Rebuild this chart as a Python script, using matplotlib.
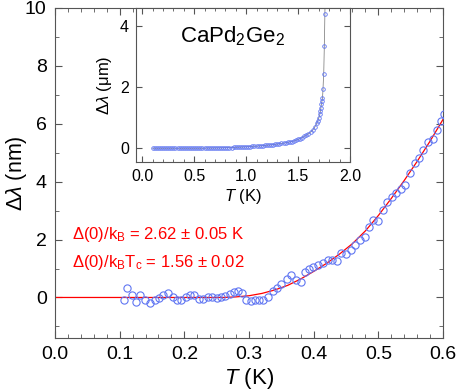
import matplotlib
matplotlib.use("Agg")
import matplotlib.pyplot as plt
from matplotlib.ticker import MultipleLocator

plt.rcParams["font.family"] = ["Liberation Sans", "DejaVu Sans"]
plt.rcParams["mathtext.fontset"] = "custom"
plt.rcParams["mathtext.rm"] = "Liberation Sans"
plt.rcParams["mathtext.it"] = "Liberation Sans:italic"
plt.rcParams["mathtext.default"] = "regular"

# main panel: penetration depth shift (nm) vs T
T_main = [0.106, 0.112, 0.119, 0.125, 0.132, 0.139, 0.147, 0.154, 0.161, 0.167,
          0.175, 0.182, 0.188, 0.195, 0.202, 0.209, 0.215, 0.222, 0.229, 0.236,
          0.243, 0.250, 0.257, 0.263, 0.271, 0.277, 0.283, 0.289, 0.295, 0.303,
          0.309, 0.316, 0.322, 0.330, 0.337, 0.343, 0.350, 0.358, 0.365, 0.372,
          0.380, 0.387, 0.393, 0.399, 0.407, 0.414, 0.422, 0.429, 0.436, 0.443,
          0.450, 0.457, 0.464, 0.472, 0.479, 0.486, 0.492, 0.499, 0.507, 0.514,
          0.521, 0.528, 0.535, 0.541, 0.549, 0.557, 0.563, 0.569, 0.577, 0.584,
          0.590, 0.597, 0.602]
dl_main = [-0.08, 0.34, 0.07, -0.16, 0.07, -0.08, -0.18, -0.10, -0.02, 0.09,
           0.16, 0.01, -0.08, -0.07, 0.01, 0.09, 0.09, -0.05, -0.05, 0.01,
           0.01, -0.02, 0.01, 0.04, 0.13, 0.18, 0.22, 0.17, -0.08, -0.13,
           -0.09, -0.08, -0.08, 0.01, 0.22, 0.33, 0.47, 0.65, 0.77, 0.61,
           0.53, 0.88, 0.99, 1.05, 1.13, 1.19, 1.28, 1.28, 1.25, 1.55,
           1.50, 1.63, 1.82, 1.97, 2.08, 2.45, 2.67, 2.65, 3.02, 3.30,
           3.47, 3.61, 3.74, 3.88, 4.30, 4.63, 4.82, 5.10, 5.37, 5.49,
           5.78, 6.09, 6.33]

# fit curve
T_fit = [0.0, 0.26, 0.28, 0.30, 0.32, 0.34, 0.36, 0.38, 0.40, 0.42,
         0.44, 0.46, 0.48, 0.50, 0.52, 0.54, 0.56, 0.58, 0.60]
dl_fit = [0.0, 0.0, 0.02, 0.06, 0.14, 0.26, 0.42, 0.64, 0.90, 1.18,
          1.50, 1.86, 2.30, 2.83, 3.42, 4.04, 4.70, 5.40, 6.15]

# inset: full temperature range (um)
T_in = [0.10, 0.12, 0.14, 0.16, 0.18, 0.20, 0.22, 0.24, 0.26, 0.28,
        0.30, 0.32, 0.34, 0.36, 0.38, 0.40, 0.42, 0.44, 0.46, 0.48,
        0.50, 0.52, 0.54, 0.56, 0.58, 0.60, 0.62, 0.64, 0.66, 0.68,
        0.70, 0.72, 0.74, 0.76, 0.78, 0.80, 0.82, 0.84, 0.86, 0.88,
        0.90, 0.92, 0.94, 0.96, 0.98, 1.00, 1.02, 1.04, 1.06, 1.08,
        1.10, 1.12, 1.14, 1.16, 1.18, 1.20, 1.22, 1.24, 1.26, 1.28,
        1.30, 1.32, 1.34, 1.36, 1.38, 1.40, 1.42, 1.44, 1.46, 1.48,
        1.50, 1.52, 1.54, 1.56, 1.58, 1.60, 1.62, 1.64, 1.66, 1.68,
        1.69, 1.70, 1.71, 1.715, 1.72, 1.725, 1.73, 1.735, 1.74, 1.747,
        1.753, 1.758, 1.763]
dl_in = [0.0, 0.0, 0.0, 0.0, 0.0, 0.0, 0.0, 0.0, 0.0, 0.0,
         0.0, 0.0, 0.0, 0.0, 0.0, 0.0, 0.0, 0.0, 0.0, 0.0,
         0.0, 0.0, 0.0, 0.0, 0.0, 0.005, 0.005, 0.006, 0.007, 0.008,
         0.009, 0.010, 0.011, 0.013, 0.015, 0.017, 0.019, 0.021, 0.024, 0.027,
         0.030, 0.033, 0.036, 0.040, 0.044, 0.048, 0.052, 0.056, 0.060, 0.065,
         0.070, 0.075, 0.080, 0.086, 0.092, 0.098, 0.105, 0.112, 0.120, 0.128,
         0.137, 0.147, 0.157, 0.168, 0.180, 0.193, 0.207, 0.222, 0.240, 0.260,
         0.29, 0.32, 0.35, 0.39, 0.43, 0.48, 0.53, 0.59, 0.69, 0.82,
         0.90, 1.00, 1.12, 1.22, 1.33, 1.44, 1.55, 1.65, 1.93, 2.45,
         3.35, 4.40, 5.50]

blue = "#6076f2"
spine_col = "#555555"

fig = plt.figure(figsize=(4.57, 3.9), dpi=100)
ax = fig.add_axes([55 / 457, 52 / 390, 388 / 457, 330 / 390])

ax.plot(T_fit, dl_fit, color="red", lw=0.9, zorder=2)
ax.plot(T_main, dl_main, "o", mfc="none", mec=blue, mew=0.8, ms=5.2, zorder=3)

ax.set_xlim(0.0, 0.6)
ax.set_ylim(-1.4, 10)
ax.xaxis.set_major_locator(MultipleLocator(0.1))
ax.xaxis.set_minor_locator(MultipleLocator(0.02))
ax.yaxis.set_major_locator(MultipleLocator(2))
ax.yaxis.set_minor_locator(MultipleLocator(1))
ax.tick_params(which="both", direction="in", top=True, right=True, color=spine_col)
ax.tick_params(which="major", length=5, labelsize=14, pad=6)
ax.tick_params(which="minor", length=3)
for s in ax.spines.values():
    s.set_color(spine_col)
ax.set_xlabel(r"$\mathit{T}$ (K)", fontsize=16, labelpad=2)
ax.set_ylabel(r"$\Delta\mathit{\lambda}$ (nm)", fontsize=15.5, va="center")
ax.yaxis.set_label_coords(-0.098, 0.5)

ax.text(0.026, 2.18, r"$\Delta$(0)/k$_B$ = 2.62 ± 0.05 K", color="red",
        fontsize=12, va="center")
ax.text(0.026, 1.21, r"$\Delta$(0)/k$_B$T$_c$ = 1.56 ± 0.02", color="red",
        fontsize=12, va="center")

# inset
axi = fig.add_axes([136 / 457, 1 - 162 / 390, 214 / 457, 154 / 390])
axi.plot(T_in, dl_in, color="#888888", lw=0.6, zorder=2)
axi.plot(T_in, dl_in, "o", mfc="none", mec=blue, mew=0.6, ms=2.6, zorder=3)
axi.set_xlim(-0.06, 2.0)
axi.set_ylim(-0.45, 4.6)
axi.xaxis.set_major_locator(MultipleLocator(0.5))
axi.xaxis.set_minor_locator(MultipleLocator(0.1))
axi.yaxis.set_major_locator(MultipleLocator(2))
axi.tick_params(which="both", direction="in", top=True, right=True, color=spine_col)
axi.tick_params(which="major", length=4, labelsize=11.5, pad=5)
axi.tick_params(which="minor", length=2.5)
for s in axi.spines.values():
    s.set_color(spine_col)
axi.set_xlabel(r"$\mathit{T}$ (K)", fontsize=12, labelpad=2)
axi.set_ylabel(r"$\Delta\mathit{\lambda}$ ($\mu$m)", fontsize=12, labelpad=4)
axi.text(0.45, 0.82, r"CaPd$_2$Ge$_2$", transform=axi.transAxes,
         fontsize=16, ha="center", va="center")

fig.savefig("out.png", dpi=100)
